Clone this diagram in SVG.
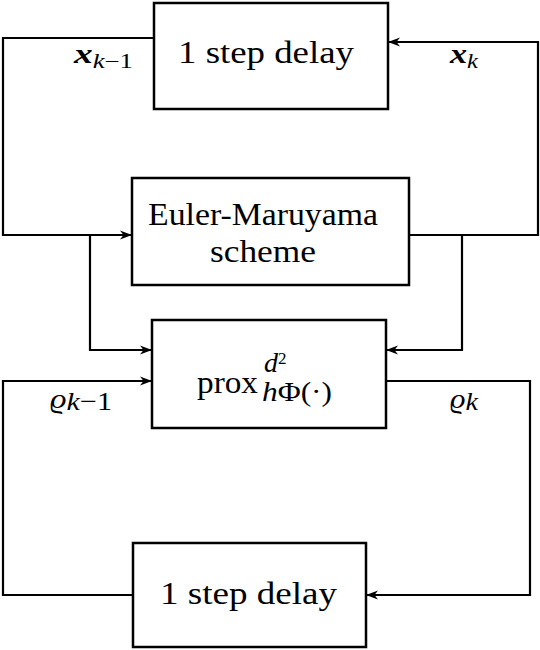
<svg xmlns="http://www.w3.org/2000/svg" width="540" height="650" viewBox="0 0 540 650">
<style>
.box{fill:#fff;stroke:#000;stroke-width:2.5}
.c{fill:none;stroke:#000;stroke-width:2.2}
.t{font-family:"Liberation Serif","Times New Roman",serif;font-size:31px;fill:#000}
.m{font-family:"Liberation Serif","Times New Roman",serif;font-size:28px;fill:#000;font-style:italic}
.s{font-size:20px}
</style>
<defs>
<marker id="ah" viewBox="0 0 12 10" refX="12" refY="5" markerWidth="12" markerHeight="10" orient="auto" markerUnits="userSpaceOnUse">
<path d="M0,0.5 L12,5 L0,9.5 L3.5,5 Z" fill="#000"/>
</marker>
</defs>
<rect width="540" height="650" fill="#fff"/>
<g id="connectors">
<path class="c" d="M154,38 H3 V235 H132" marker-end="url(#ah)"/>
<path class="c" d="M409,235 H538 V42 H388" marker-end="url(#ah)"/>
<path class="c" d="M90,235 V350 H152" marker-end="url(#ah)"/>
<path class="c" d="M462,235 V350 H386" marker-end="url(#ah)"/>
<path class="c" d="M386,381 H530 V595 H366" marker-end="url(#ah)"/>
<path class="c" d="M133,595 H3 V381 H152" marker-end="url(#ah)"/>
</g>
<g id="delay_top">
<rect class="box" x="154" y="3" width="234" height="106"/>
<text class="t" x="178" y="63" textLength="176" lengthAdjust="spacingAndGlyphs">1 step delay</text>
</g>
<g id="euler">
<rect class="box" x="132" y="178" width="277" height="107"/>
<text class="t" x="148" y="225" textLength="230" lengthAdjust="spacingAndGlyphs">Euler-Maruyama</text>
<text class="t" x="210" y="262" textLength="106" lengthAdjust="spacingAndGlyphs">scheme</text>
</g>
<g id="prox">
<rect class="box" x="152" y="320" width="234" height="108"/>
<text class="t" x="197" y="393" textLength="61" lengthAdjust="spacingAndGlyphs">prox</text>
<text class="m" x="264" y="372" font-size="24">d<tspan font-size="17" dy="-8" font-style="normal">2</tspan></text>
<text class="m" x="262" y="401" font-size="25" textLength="70" lengthAdjust="spacingAndGlyphs">h<tspan font-style="normal">Φ(·)</tspan></text>
</g>
<g id="delay_bottom">
<rect class="box" x="133" y="543" width="233" height="104"/>
<text class="t" x="160" y="604" textLength="177" lengthAdjust="spacingAndGlyphs">1 step delay</text>
</g>
<g id="labels">
<text class="m" x="74" y="63" textLength="59" lengthAdjust="spacingAndGlyphs"><tspan font-weight="bold">x</tspan><tspan class="s" dy="5">k</tspan><tspan class="s" font-style="normal">−1</tspan></text>
<text class="m" x="450" y="63" textLength="28" lengthAdjust="spacingAndGlyphs"><tspan font-weight="bold">x</tspan><tspan class="s" dy="5">k</tspan></text>
<text class="m" x="50" y="408" textLength="62" lengthAdjust="spacingAndGlyphs">ϱ<tspan dy="2" font-size="26">k</tspan><tspan font-size="26" font-style="normal">−1</tspan></text>
<text class="m" x="450" y="408" textLength="28" lengthAdjust="spacingAndGlyphs">ϱ<tspan dy="2" font-size="26">k</tspan></text>
</g>
</svg>
